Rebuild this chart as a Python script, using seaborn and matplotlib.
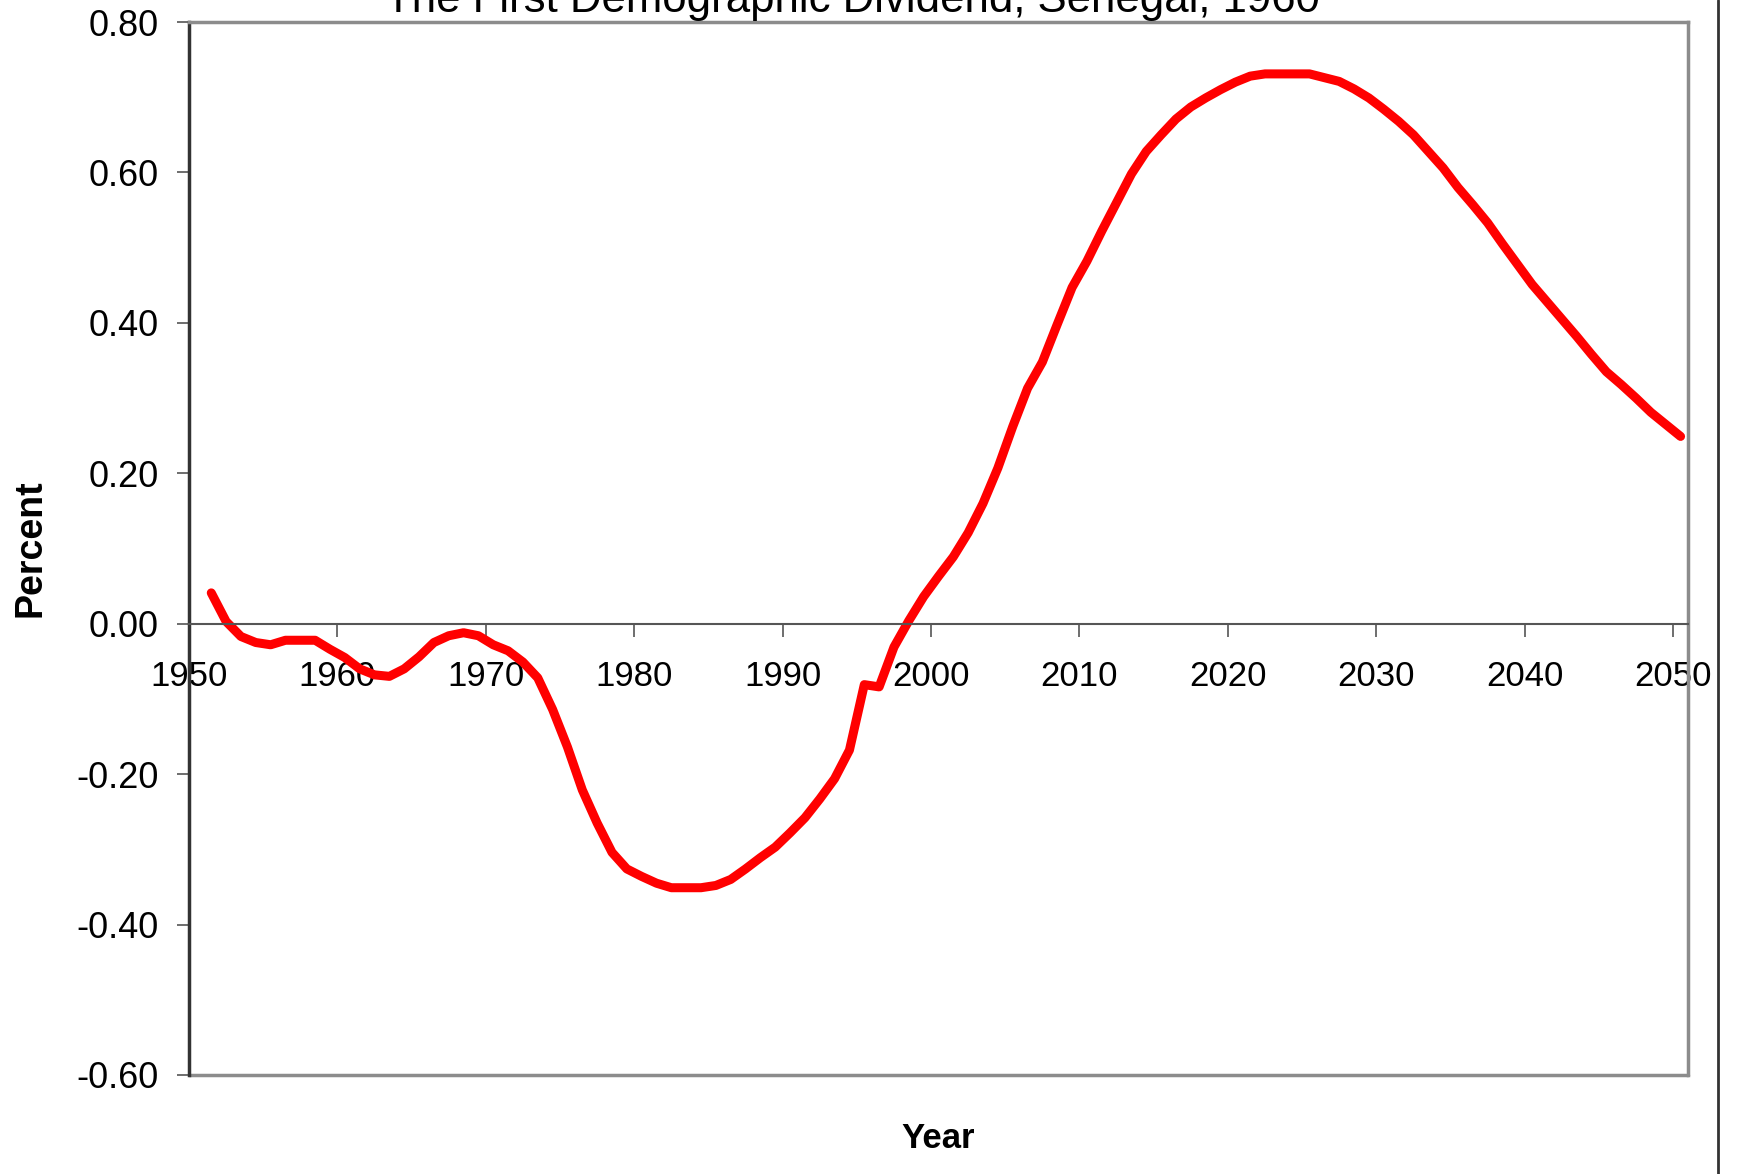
import numpy as np
import pandas as pd
import matplotlib
matplotlib.use("Agg")
import matplotlib.pyplot as plt
import seaborn as sns
from matplotlib.lines import Line2D
from matplotlib.ticker import FuncFormatter

# yearly values, 1951-2050
years = list(range(1951, 2051))
dividend = [
    0.041, 0.003, -0.017, -0.025, -0.028, -0.022, -0.022, -0.022, -0.034, -0.045,
    -0.060, -0.068, -0.070, -0.060, -0.044, -0.025, -0.016, -0.012, -0.016, -0.028,
    -0.036, -0.051, -0.072, -0.114, -0.164, -0.221, -0.265, -0.304, -0.326, -0.336,
    -0.345, -0.351, -0.351, -0.351, -0.348, -0.340, -0.326, -0.311, -0.297, -0.278,
    -0.258, -0.233, -0.206, -0.168, -0.081, -0.084, -0.031, 0.004, 0.036, 0.063,
    0.089, 0.121, 0.160, 0.207, 0.262, 0.313, 0.348, 0.398, 0.447, 0.482,
    0.522, 0.560, 0.598, 0.628, 0.650, 0.671, 0.687, 0.699, 0.710, 0.720,
    0.728, 0.731, 0.731, 0.731, 0.731, 0.726, 0.721, 0.711, 0.699, 0.684,
    0.668, 0.650, 0.628, 0.606, 0.580, 0.557, 0.533, 0.505, 0.478, 0.451,
    0.428, 0.405, 0.382, 0.358, 0.335, 0.318, 0.300, 0.281, 0.265, 0.249,
]
x_ticks = list(range(1950, 2051, 10))
y_ticks = [-0.6, -0.4, -0.2, 0.0, 0.2, 0.4, 0.6, 0.8]

title = "The First Demographic Dividend, Senegal, 1960"

sns.set_style("white")
plt.rcParams["font.family"] = ["Liberation Sans", "DejaVu Sans"]
plt.rcParams["axes.unicode_minus"] = False
plt.rcParams["text.color"] = "black"
plt.rcParams["axes.labelcolor"] = "black"

W, H = 1741, 1174
fig = plt.figure(figsize=(W / 100, H / 100), dpi=100)
ax = fig.add_axes([189 / W, 1 - 1075 / H, (1688 - 189) / W, (1075 - 22) / H])

# points sit in the middle of each year's category, like the Excel original
df = pd.DataFrame({"year": np.array(years) + 0.5, "value": dividend})
sns.lineplot(data=df, x="year", y="value", color="#ff0000", linewidth=6.5,
             solid_capstyle="round", solid_joinstyle="round", ax=ax)

ax.set_xlim(1950, 2051)
ax.set_ylim(-0.6, 0.8)
ax.set_xticks(x_ticks)
ax.set_yticks(y_ticks)
ax.yaxis.set_major_formatter(FuncFormatter(lambda v, p: f"{v:.2f}"))

# x axis crosses at zero
ax.spines["bottom"].set_position(("data", 0))
ax.spines["bottom"].set_color("#555555")
ax.spines["bottom"].set_linewidth(1.5)
ax.spines["left"].set_color("#333333")
ax.spines["left"].set_linewidth(2.5)
for s in ["top", "right"]:
    ax.spines[s].set_visible(True)
    ax.spines[s].set_color("#8c8c8c")
    ax.spines[s].set_linewidth(2.5)
ax.axhline(-0.6, color="#8c8c8c", linewidth=2.5, clip_on=False)

ax.tick_params(axis="x", direction="out", length=9, width=1.2, color="#555555",
               pad=17, labelsize=25, labelcolor="black", bottom=True)
ax.tick_params(axis="y", direction="out", length=9, width=1.2, color="#555555",
               pad=13, labelsize=26, labelcolor="black", left=True)

ax.set_xlabel("Year", fontsize=25, fontweight="bold")
ax.set_ylabel("Percent", fontsize=27, fontweight="bold")
ax.xaxis.set_label_coords(0.5, -(1122 - 1075) / (1075 - 22))
ax.yaxis.set_label_coords(-(189 - 49) / (1688 - 189), 0.5)

# title, cut off at the top like in the source
fig.text(385 / W, 1 - 12 / H, title, fontsize=31.5, ha="left", va="baseline")

# page border on the right
fig.add_artist(Line2D([1718 / W, 1718 / W], [0, 1], transform=fig.transFigure,
                      color="#333333", linewidth=2))

fig.savefig("out.png", dpi=100)
